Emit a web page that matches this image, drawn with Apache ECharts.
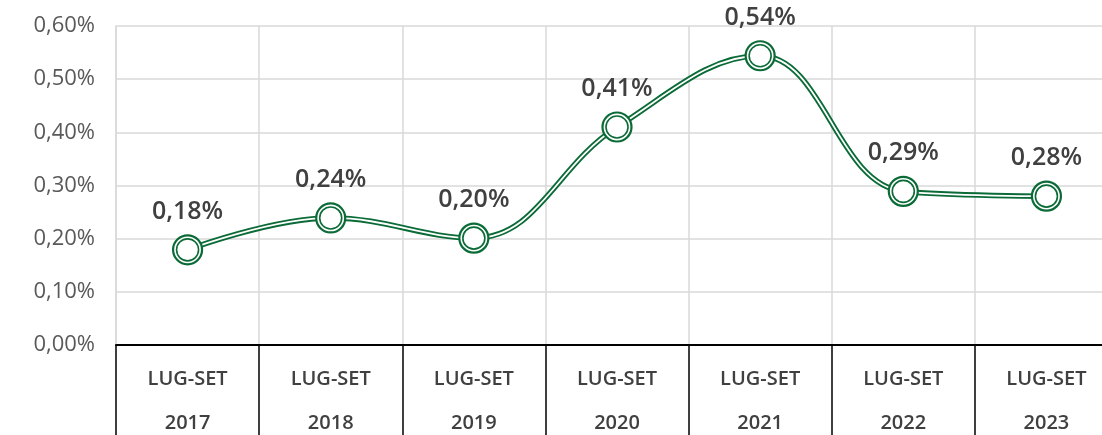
<!DOCTYPE html>
<html>
<head>
<meta charset="utf-8">
<script src="https://cdn.jsdelivr.net/npm/echarts@6/dist/echarts.min.js"></script>
<style>
  html, body { margin: 0; padding: 0; background: #fff; }
  #chart { width: 1102px; height: 435px; }
</style>
</head>
<body>
<div id="chart"></div>
<script>
// dati
const periods = ["LUG-SET", "LUG-SET", "LUG-SET", "LUG-SET", "LUG-SET", "LUG-SET", "LUG-SET"];
const years = ["2017", "2018", "2019", "2020", "2021", "2022", "2023"];
const values = [0.179, 0.239, 0.201, 0.41, 0.544, 0.289, 0.28];
const yTicks = [0, 0.6, 0.1]; // min, max, passo

const green = "#0b6b37";
const categories = years.map((y, i) => periods[i] + "\n" + y);
const fmt = v => v.toFixed(2).replace(".", ",") + "%";

const chart = echarts.init(document.getElementById("chart"));
chart.setOption({
  animation: false,
  grid: {
    left: 116, top: 26, width: 1002, height: 319,
    containLabel: false,
    outerBoundsMode: "none"
  },
  xAxis: {
    type: "category",
    data: categories,
    boundaryGap: true,
    axisLine: { show: true, lineStyle: { color: "#000", width: 2 } },
    axisTick: { show: true, length: 90, interval: 0, lineStyle: { color: "#000", width: 1.5 } },
    axisLabel: {
      interval: 0,
      margin: 12,
      color: "#404040",
      fontFamily: "Open Sans",
      fontWeight: 600,
      fontSize: 20,
      lineHeight: 44
    },
    splitLine: { show: true, interval: 0, lineStyle: { color: "#d9d9d9", width: 1.5 } }
  },
  yAxis: {
    type: "value",
    min: yTicks[0],
    max: yTicks[1],
    interval: yTicks[2],
    axisLine: { show: true, lineStyle: { color: "#d9d9d9", width: 1.5 } },
    axisTick: { show: false },
    axisLabel: {
      margin: 21,
      color: "#595959",
      fontFamily: "Open Sans",
      fontSize: 22,
      formatter: fmt
    },
    splitLine: { lineStyle: { color: "#d9d9d9", width: 1.5 } }
  },
  series: [
    // bordo verde della linea
    {
      type: "line", data: values, smooth: 0.4, showSymbol: false, z: 2,
      lineStyle: { color: green, width: 5.5 }
    },
    // interno bianco della linea
    {
      type: "line", data: values, smooth: 0.4, showSymbol: false, z: 3,
      lineStyle: { color: "#fff", width: 1.8 }
    },
    // cerchio esterno
    {
      type: "line", data: values, z: 4,
      lineStyle: { opacity: 0 },
      symbol: "circle", symbolSize: 29,
      itemStyle: { color: "#fff", borderColor: green, borderWidth: 2.2 },
      label: {
        show: true, position: "top", distance: 10,
        color: "#404040", fontFamily: "Open Sans", fontWeight: 600, fontSize: 25,
        formatter: p => fmt(p.value)
      }
    },
    // cerchio interno
    {
      type: "line", data: values, z: 5,
      lineStyle: { opacity: 0 },
      symbol: "circle", symbolSize: 22,
      itemStyle: { color: "#fff", borderColor: green, borderWidth: 1.6 }
    }
  ]
});
window.addEventListener("resize", function () {
  chart.resize();
});
</script>
</body>
</html>
